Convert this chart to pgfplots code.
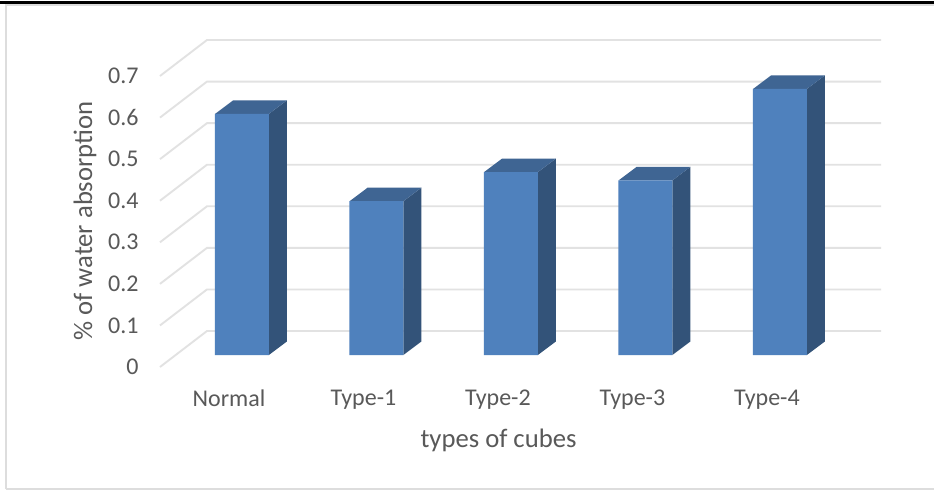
\documentclass[border=0pt]{standalone}
\usepackage{pgfplots}
\pgfplotsset{compat=1.18}
\usepackage{fontspec}
\setmainfont{Carlito}
\definecolor{txt}{HTML}{595959}
\definecolor{gridc}{HTML}{E2E2E2}
\definecolor{framec}{HTML}{DDDDDD}
\definecolor{frontc}{HTML}{4F81BD}
\definecolor{sidec}{HTML}{335379}
\definecolor{topc}{HTML}{3F6593}
\begin{document}
\begin{tikzpicture}[x=0.75pt,y=0.75pt]
% page frame; the origin sits at the front corner of the chart floor
\fill[white] (-160,-123) rectangle (774,367);
\draw[color=framec,line width=1.5pt] (-154,-122) -- (-154,362) -- (774,362);
\draw[color=framec,line width=1.5pt] (-154,-122) -- (774,-122);
\fill[black] (-160,363) rectangle (774,366);
% back wall, side wall and value labels
\begin{axis}[
  at={(0,0)},anchor=south west,scale only axis,
  width=540.75pt,height=245.25pt,
  xmin=-0.513,xmax=4.848,ymin=0,ymax=0.7866,
  clip=false,axis line style={draw=none},
  major tick length=0pt,
  xtick={0,1,2,3,4},
  xticklabels={Normal,Type-1,Type-2,Type-3,Type-4},
  ytick={0,0.1,0.2,0.3,0.4,0.5,0.6,0.7},
  yticklabels={0,0.1,0.2,0.3,0.4,0.5,0.6,0.7},
  tick label style={font=\fontsize{18}{20}\selectfont,text=txt},
  yticklabel style={xshift=-12.5pt},
  xticklabel style={yshift=-13.5pt},
  xlabel={types of cubes},ylabel={\% of water absorption},
  label style={font=\fontsize{20}{22}\selectfont,text=txt},
  xlabel style={at={(axis description cs:0.4695,-0.223)},anchor=center},
  ylabel style={at={(axis description cs:-0.104,0.4465)},anchor=center},
]
\addplot[gridc,line width=1.4pt] coordinates {(-0.513,0) (-0.1636,0.0866) (4.848,0.0866)};
\addplot[gridc,line width=1.4pt] coordinates {(-0.513,0.1) (-0.1636,0.1866) (4.848,0.1866)};
\addplot[gridc,line width=1.4pt] coordinates {(-0.513,0.2) (-0.1636,0.2866) (4.848,0.2866)};
\addplot[gridc,line width=1.4pt] coordinates {(-0.513,0.3) (-0.1636,0.3866) (4.848,0.3866)};
\addplot[gridc,line width=1.4pt] coordinates {(-0.513,0.4) (-0.1636,0.4866) (4.848,0.4866)};
\addplot[gridc,line width=1.4pt] coordinates {(-0.513,0.5) (-0.1636,0.5866) (4.848,0.5866)};
\addplot[gridc,line width=1.4pt] coordinates {(-0.513,0.6) (-0.1636,0.6866) (4.848,0.6866)};
\addplot[gridc,line width=1.4pt] coordinates {(-0.513,0.7) (-0.1636,0.7866) (4.848,0.7866)};
\end{axis}
% the cubes stand on the floor, 12 px above the front edge of the wall
\begin{axis}[
  at={(0,9pt)},anchor=south west,scale only axis,
  width=540.75pt,height=245.25pt,
  xmin=-0.513,xmax=4.848,ymin=0,ymax=0.7866,
  clip=false,axis lines=none,
]
% right-hand faces
\addplot[fill=sidec,draw=none] coordinates {(0.2967,0) (0.4305,0.0325) (0.4305,0.6125) (0.2967,0.58)} -- cycle;
\addplot[fill=sidec,draw=none] coordinates {(1.2967,0) (1.4305,0.0325) (1.4305,0.4025) (1.2967,0.37)} -- cycle;
\addplot[fill=sidec,draw=none] coordinates {(2.2967,0) (2.4305,0.0325) (2.4305,0.4725) (2.2967,0.44)} -- cycle;
\addplot[fill=sidec,draw=none] coordinates {(3.2967,0) (3.4305,0.0325) (3.4305,0.4525) (3.2967,0.42)} -- cycle;
\addplot[fill=sidec,draw=none] coordinates {(4.2967,0) (4.4305,0.0325) (4.4305,0.6725) (4.2967,0.64)} -- cycle;
% top faces
\addplot[fill=topc,draw=none] coordinates {(-0.1033,0.58) (0.2967,0.58) (0.4305,0.6125) (0.0305,0.6125)} -- cycle;
\addplot[fill=topc,draw=none] coordinates {(0.8967,0.37) (1.2967,0.37) (1.4305,0.4025) (1.0305,0.4025)} -- cycle;
\addplot[fill=topc,draw=none] coordinates {(1.8967,0.44) (2.2967,0.44) (2.4305,0.4725) (2.0305,0.4725)} -- cycle;
\addplot[fill=topc,draw=none] coordinates {(2.8967,0.42) (3.2967,0.42) (3.4305,0.4525) (3.0305,0.4525)} -- cycle;
\addplot[fill=topc,draw=none] coordinates {(3.8967,0.64) (4.2967,0.64) (4.4305,0.6725) (4.0305,0.6725)} -- cycle;
% front faces
\addplot[ybar,bar width=40.5pt,bar shift=9.75pt,fill=frontc,draw=none] coordinates {(0,0.58) (1,0.37) (2,0.44) (3,0.42) (4,0.64)};
\end{axis}
\pgfresetboundingbox
\useasboundingbox (-160,-123) rectangle (774,367);
\end{tikzpicture}
\end{document}
